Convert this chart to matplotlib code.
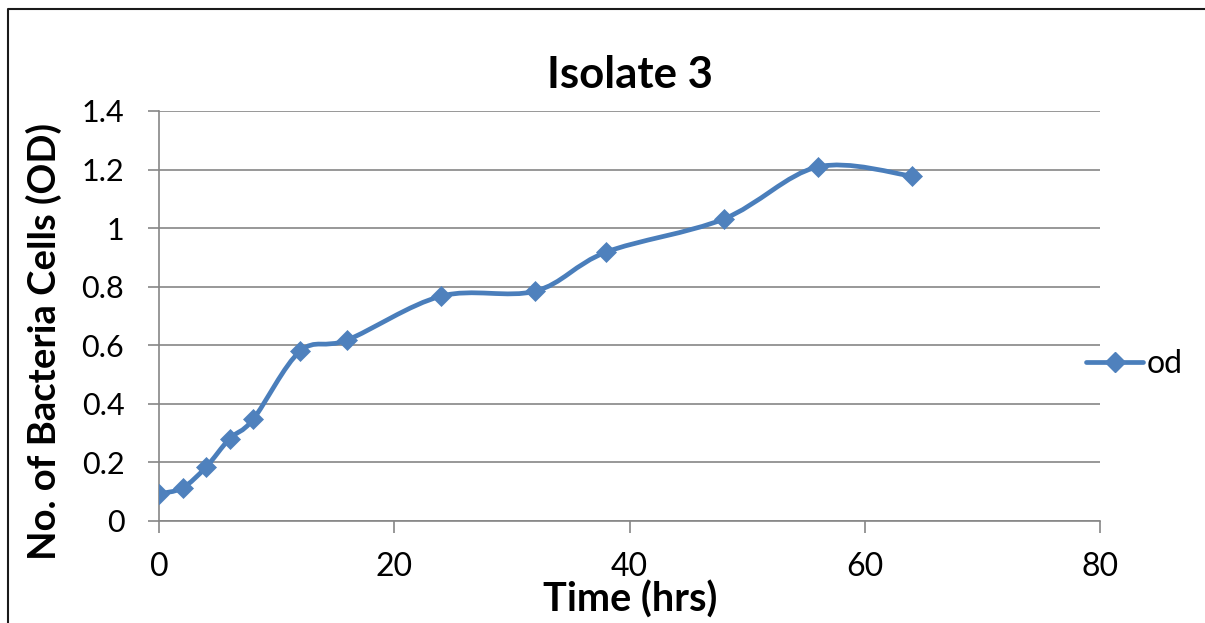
#!/usr/bin/env python3
"""Isolate 3 growth curve (OD vs time), Excel-style smoothed line."""

import matplotlib
matplotlib.use("Agg")
import matplotlib.pyplot as plt
from matplotlib.path import Path
from matplotlib.patches import PathPatch
from matplotlib.lines import Line2D
import numpy as np

time_hrs = [0, 2, 4, 6, 8, 12, 16, 24, 32, 38, 48, 56, 64]
od = [0.093, 0.113, 0.184, 0.281, 0.347, 0.58, 0.618, 0.768, 0.785, 0.918, 1.031, 1.209, 1.178]
series_name = "od"

x_ticks = [0, 20, 40, 60, 80]
y_ticks = [0, 0.2, 0.4, 0.6, 0.8, 1.0, 1.2, 1.4]
y_tick_labels = ["0", "0.2", "0.4", "0.6", "0.8", "1", "1.2", "1.4"]

LINE = "#4A7EBB"
MARK = "#4F81BD"
GRID = "#868686"
W, H = 1205, 623


def smooth_path(xs, ys):
    # Excel-like smoothing: cubic Bezier segments with Catmull-Rom control points
    p = np.column_stack([xs, ys]).astype(float)
    ext = np.vstack([p[0], p, p[-1]])
    verts = [p[0]]
    codes = [Path.MOVETO]
    for i in range(len(p) - 1):
        p0, p1, p2, p3 = ext[i], ext[i + 1], ext[i + 2], ext[i + 3]
        c1 = p1 + (p2 - p0) / 6.0
        c2 = p2 - (p3 - p1) / 6.0
        verts += [c1, c2, p2]
        codes += [Path.CURVE4] * 3
    return Path(verts, codes)


plt.rcParams["font.family"] = ["Lato", "DejaVu Sans"]

fig = plt.figure(figsize=(W / 100, H / 100), dpi=100)
ax = fig.add_axes([159 / W, 1 - 521 / H, (1100 - 159) / W, (521 - 111) / H])

ax.add_patch(PathPatch(smooth_path(time_hrs, od), facecolor="none",
                       edgecolor=LINE, lw=3.4, capstyle="round", zorder=3))
ax.plot(time_hrs, od, linestyle="none", marker="D", ms=10.5, mfc=MARK,
        mec=MARK, mew=0.5, zorder=4)

ax.set_xlim(0, 80)
ax.set_ylim(0, 1.4)
ax.set_xticks(x_ticks)
ax.set_xticklabels([str(t) for t in x_ticks])
ax.set_yticks(y_ticks)
ax.set_yticklabels(y_tick_labels)
ax.grid(axis="y", color=GRID, lw=1.2)
ax.set_axisbelow(True)
for side in ("top", "right"):
    ax.spines[side].set_visible(False)
for side in ("left", "bottom"):
    ax.spines[side].set_color(GRID)
    ax.spines[side].set_linewidth(1.2)
ax.tick_params(axis="y", direction="out", length=8, width=1.2, color=GRID,
               pad=17, labelsize=22)
ax.tick_params(axis="x", direction="out", length=8.5, width=1.2, color=GRID,
               pad=14, labelsize=23)

fig.text(629.5 / W, 1 - 88 / H, "Isolate 3", ha="center", va="baseline",
         fontsize=31.5, fontweight="bold")
fig.text(630 / W, 1 - 612 / H, "Time (hrs)", ha="center", va="baseline",
         fontsize=28.5, fontweight="bold")
fig.text(44 / W, 1 - 342 / H, "No. of Bacteria Cells (OD)", ha="center",
         va="center", rotation=90, fontsize=27.5, fontweight="bold")

handle = Line2D([0], [0], color=LINE, lw=3.4, marker="D", ms=10.5,
                mfc=MARK, mec=MARK, solid_capstyle="round")
fig.legend([handle], [series_name], loc="center left",
           bbox_to_anchor=(1070 / W, 1 - 364 / H), frameon=False,
           fontsize=23, handlelength=1.8, handletextpad=0.1, borderpad=0)

# chart area border (only top and left edges are inside the crop)
fig.add_artist(Line2D([8 / W, 8 / W, 1.0], [0.0, 1 - 9 / H, 1 - 9 / H],
                      transform=fig.transFigure, color="#1a1a1a", lw=1.5))

fig.savefig("out.png", dpi=100)
